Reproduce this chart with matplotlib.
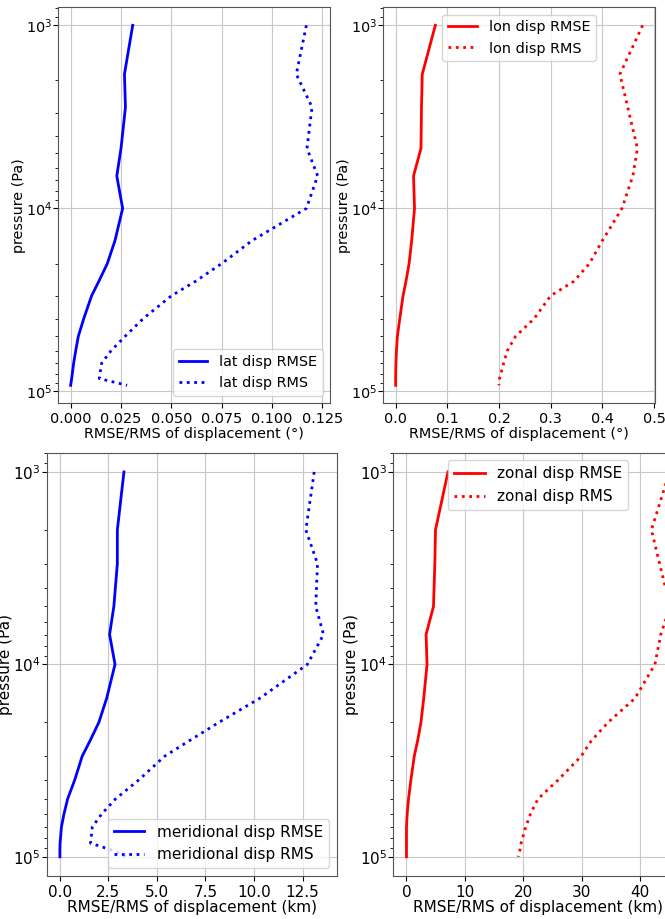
import matplotlib
matplotlib.use('Agg')
import matplotlib.pyplot as plt

# pressure levels (Pa)
p_deg = [1000, 1850, 2800, 4700, 6650, 10000, 15000, 20000, 25000, 30000,
         40000, 50000, 60000, 70000, 85000, 92500]
p_km = [1000, 2000, 3000, 5000, 7000, 10000, 15000, 20000, 25000, 30000,
        40000, 50000, 60000, 70000, 85000, 92500, 100000]

# displacement errors in degrees
lat_rmse = [0.0308, 0.0267, 0.0272, 0.0250, 0.0229, 0.0258, 0.0220, 0.0182, 0.0140, 0.0104,
            0.0065, 0.0038, 0.0025, 0.0015, 0.0005, 0.0]
lat_rms = [0.117, 0.112, 0.1198, 0.1173, 0.1226, 0.117, 0.090, 0.075, 0.062, 0.050,
           0.036, 0.027, 0.020, 0.0154, 0.0142, 0.028]
lon_rmse = [0.0768, 0.0515, 0.050, 0.049, 0.0346, 0.0365, 0.031, 0.026, 0.020, 0.0143,
            0.008, 0.0033, 0.0015, 0.0005, 0.0, 0.0]
lon_rms = [0.478, 0.434, 0.449, 0.468, 0.459, 0.438, 0.400, 0.375, 0.345, 0.300,
           0.268, 0.232, 0.216, 0.209, 0.201, 0.200]

# displacement errors in km
mer_rmse = [3.30, 2.96, 2.96, 2.78, 2.56, 2.84, 2.41, 2.01, 1.55, 1.15,
            0.76, 0.40, 0.21, 0.08, 0.01, 0.0, 0.0]
mer_rms = [13.1, 12.67, 13.27, 13.18, 13.58, 12.75, 10.3, 8.2, 6.65, 5.4,
           4.05, 2.87, 2.15, 1.67, 1.58, 2.7, 3.4]
zon_rmse = [7.1, 4.96, 4.85, 4.62, 3.35, 3.52, 2.95, 2.48, 1.9, 1.33,
            0.75, 0.35, 0.12, 0.0, 0.0, 0.0, 0.0]
zon_rms = [45.0, 41.9, 43.3, 45.1, 43.5, 42.5, 39.1, 34.5, 31.6, 29.9,
           25.9, 22.5, 21.2, 20.4, 19.6, 19.4, 19.1]

W, H = 665, 919
fig = plt.figure(figsize=(W / 100, H / 100), dpi=100)


def box(l, t, r, b):
    return [l / W, 1 - b / H, (r - l) / W, (b - t) / H]


def panel(rect, p, rmse, rms, color, name, unit, loc, fs):
    ax = fig.add_axes(rect)
    ax.plot(rmse, p, color=color, lw=2, label=name + ' disp RMSE')
    ax.plot(rms, p, color=color, lw=2, ls=':', label=name + ' disp RMS')
    ax.set_yscale('log')
    ax.invert_yaxis()
    ax.grid(True, color='#c8c8c8')
    ax.set_xlabel('RMSE/RMS of displacement (' + unit + ')', fontsize=fs, labelpad=0.5)
    ax.set_ylabel('pressure (Pa)', fontsize=fs, labelpad=0)
    ax.tick_params(labelsize=fs)
    ax.tick_params(axis='x', pad=2.8)
    ax.tick_params(axis='y', pad=1)
    ax.legend(loc=loc, fontsize=fs)
    for s in ax.spines.values():
        s.set_color('#555555')
    return ax


panel(box(58.3, 7.3, 330, 403.3), p_deg, lat_rmse, lat_rms, 'b', 'lat', '°', 'lower right', 10.4)
panel(box(383.3, 7.3, 655, 403.3), p_deg, lon_rmse, lon_rms, 'r', 'lon', '°', 'upper center', 10.4)
panel(box(46.7, 452.7, 336.7, 876), p_km, mer_rmse, mer_rms, 'b', 'meridional', 'km', 'lower right', 11)
panel(box(393.3, 452.7, 683.3, 876), p_km, zon_rmse, zon_rms, 'r', 'zonal', 'km', 'upper center', 11)

fig.savefig('out.png', dpi=100)
